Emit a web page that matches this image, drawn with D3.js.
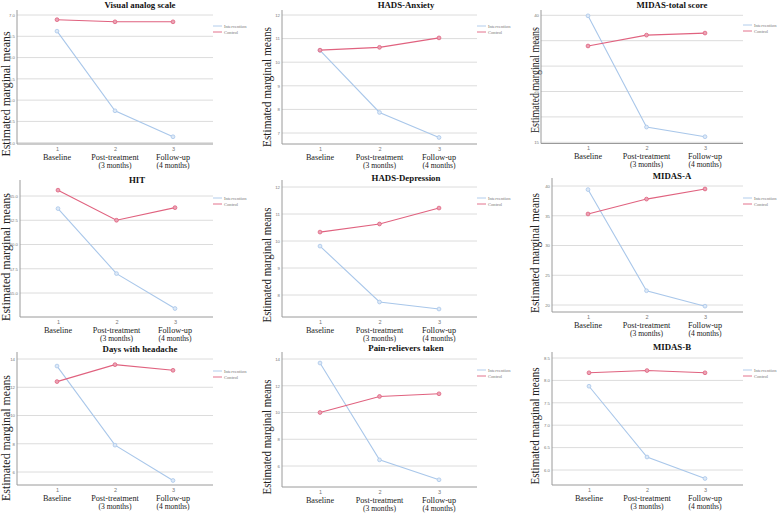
<!DOCTYPE html>
<html>
<head>
<meta charset="utf-8">
<script src="https://cdn.jsdelivr.net/npm/d3@7"></script>
<style>
  body{margin:0;background:#fff;}
  svg{display:block;}
  .grid line{stroke:#dcdcdc;stroke-width:1;}
</style>
</head>
<body>
<svg id="chart" width="777" height="513"></svg>
<script>
// ---- data ----
var titles = ["Visual analog scale","HADS-Anxiety","MIDAS-total score","HIT","HADS-Depression","MIDAS-A","Days with headache","Pain-relievers taken","MIDAS-B"]
var timepoints = ["1","2","3"]
var stageLine1 = ["Baseline","Post-treatment","Follow-up"]
var stageLine2 = ["","(3 months)","(4 months)"]
var seriesNames = ["Intervention","Control"]

var interventionMeans = [
  [6.62,4.75,4.14],
  [10.50,7.87,6.81],
  [39.9,18.0,16.1],
  [63.7,57.0,53.4],
  [9.81,7.74,7.48],
  [39.4,22.4,19.8],
  [13.5,7.9,5.4],
  [13.7,6.46,4.97],
  [7.87,6.29,5.81]
]
var controlMeans = [
  [6.89,6.84,6.84],
  [10.51,10.63,11.03],
  [33.96,36.1,36.5],
  [65.6,62.5,63.8],
  [10.33,10.63,11.22],
  [35.3,37.8,39.5],
  [12.4,13.6,13.2],
  [10.0,11.2,11.4],
  [8.17,8.22,8.17]
]
var yTicks = [
  [4.0,4.5,5.0,5.5,6.0,6.5,7.0],
  [7,8,9,10,11,12],
  [15,20,25,30,35,40],
  [55.0,57.5,60.0,62.5,65.0],
  [8,9,10,11,12],
  [20,25,30,35,40],
  [6,8,10,12,14],
  [6,8,10,12,14],
  [6.0,6.5,7.0,7.5,8.0,8.5]
]
var tickFormats = [".1f","d","d",".1f","d","d","d","d",".1f"]

// ---- layout (pixel frames of each panel) ----
var frames = [
  {x0:17, x1:213,p1:57, p3:173,top:10, gTop:15, gBot:142.7,base:144,tx:140,ty:7.5, yl:10, yc:94, yw:125},
  {x0:282,x1:477,p1:320,p3:439,top:10, gTop:15, gBot:133, base:144,tx:406,ty:7.5, yl:271,yc:87, yw:120},
  {x0:541,x1:743,p1:588,p3:705,top:10, gTop:15.3,gBot:142.3,base:143.5,tx:672,ty:7.5,yl:539,yc:80, yw:106},
  {x0:20, x1:213,p1:58, p3:175,top:180,gTop:196,gBot:293, base:317,tx:137,ty:183, yl:10, yc:257,yw:128},
  {x0:282,x1:477,p1:320,p3:439,top:180,gTop:187,gBot:295, base:317,tx:406,ty:181, yl:271,yc:265,yw:115},
  {x0:552,x1:743,p1:588,p3:705,top:178,gTop:186,gBot:305, base:312,tx:672,ty:179, yl:539,yc:253,yw:120},
  {x0:17, x1:213,p1:57, p3:173,top:352,gTop:359,gBot:472, base:485,tx:140,ty:352, yl:10, yc:438,yw:126},
  {x0:282,x1:477,p1:320,p3:439,top:352,gTop:359,gBot:466, base:487,tx:406,ty:351, yl:271,yc:437,yw:115},
  {x0:552,x1:743,p1:589,p3:705,top:352,gTop:358,gBot:470, base:485,tx:672,ty:350, yl:539,yc:426,yw:117}
]
var legendY = [26,26,25,198,198,198,371,370,370]
var colors = ["#a9c7ea","#e0627f"]
var markerFill = ["#dde9f7","#eaa3b5"]
var serif = "Liberation Serif, Times New Roman, serif"

var svg = d3.select("#chart")
svg.append("rect").attr("width",777).attr("height",513).attr("fill","#fff")

titles.forEach(function(title,i){
  var f = frames[i]
  var g = svg.append("g").attr("class","panel").attr("font-family",serif)

  var x = d3.scalePoint().domain(timepoints).range([f.p1,f.p3])
  var y = d3.scaleLinear().domain(d3.extent(yTicks[i])).range([f.gBot,f.gTop])

  // gridlines
  g.append("g").attr("class","grid")
    .selectAll("line").data(yTicks[i]).enter().append("line")
    .attr("x1",f.x0).attr("x2",f.x1)
    .attr("y1",function(d){return y(d)}).attr("y2",function(d){return y(d)})

  // y label (drawn under the tick labels)
  g.append("text")
    .attr("transform","translate("+f.yl+","+f.yc+")rotate(-90)")
    .attr("text-anchor","middle").attr("font-size",11.5).attr("fill","#222")
    .attr("textLength",f.yw).attr("lengthAdjust","spacingAndGlyphs")
    .text("Estimated marginal means")

  // y axis tick labels
  var ya = g.append("g").attr("transform","translate("+f.x0+",0)")
    .call(d3.axisLeft(y).tickValues(yTicks[i]).tickSize(0).tickPadding(2).tickFormat(d3.format(tickFormats[i])))
  ya.select(".domain").remove()
  ya.selectAll("text").attr("font-size",4.3).attr("fill","#777").attr("font-family","Liberation Sans, Arial, sans-serif")

  // axis lines
  g.append("line").attr("x1",f.x0).attr("x2",f.x0).attr("y1",f.top).attr("y2",f.base)
    .attr("stroke","#9a9a9a").attr("stroke-width",1)
  g.append("line").attr("x1",f.x0).attr("x2",f.x1).attr("y1",f.base).attr("y2",f.base)
    .attr("stroke","#9a9a9a").attr("stroke-width",1)

  // x axis numbers
  var xa = g.append("g").attr("transform","translate(0,"+f.base+")")
    .call(d3.axisBottom(x).tickSize(0).tickPadding(3))
  xa.select(".domain").remove()
  xa.selectAll("text").attr("font-size",5.5).attr("fill","#777").attr("font-family","Liberation Sans, Arial, sans-serif")

  // stage labels
  g.selectAll("text.stage1").data(timepoints).enter().append("text")
    .attr("class","stage1")
    .attr("x",function(d){return x(d)}).attr("y",f.base+15.5)
    .attr("text-anchor","middle").attr("font-size",8.2).attr("fill","#222")
    .text(function(d,k){return stageLine1[k]})
  g.selectAll("text.stage2").data(timepoints).enter().append("text")
    .attr("class","stage2")
    .attr("x",function(d){return x(d)}).attr("y",f.base+23.5)
    .attr("text-anchor","middle").attr("font-size",7.6).attr("fill","#222")
    .text(function(d,k){return stageLine2[k]})

  // lines + markers
  var line = d3.line().x(function(d,k){return x(timepoints[k])}).y(function(d){return y(d)})
  ;[interventionMeans[i],controlMeans[i]].forEach(function(vals,s){
    g.append("path").datum(vals).attr("d",line)
      .attr("fill","none").attr("stroke",colors[s]).attr("stroke-width",1.1)
    g.selectAll("circle.s"+s).data(vals).enter().append("circle")
      .attr("class","s"+s)
      .attr("cx",function(d,k){return x(timepoints[k])}).attr("cy",function(d){return y(d)})
      .attr("r",1.9).attr("fill",markerFill[s]).attr("stroke",colors[s]).attr("stroke-width",0.8)
  })

  // title
  g.append("text").attr("x",f.tx).attr("y",f.ty)
    .attr("text-anchor","middle").attr("font-weight","bold").attr("font-size",8.8).attr("fill","#111")
    .text(title)

  // legend
  var lg = g.append("g").attr("transform","translate("+f.x1+","+legendY[i]+")")
  seriesNames.forEach(function(n,s){
    lg.append("line").attr("x1",0).attr("x2",9).attr("y1",s*6).attr("y2",s*6)
      .attr("stroke",colors[s]).attr("stroke-width",0.9)
    lg.append("text").attr("x",11).attr("y",s*6+1.5).attr("font-size",4.6).attr("fill","#777").text(n)
  })
})
</script>
</body>
</html>
